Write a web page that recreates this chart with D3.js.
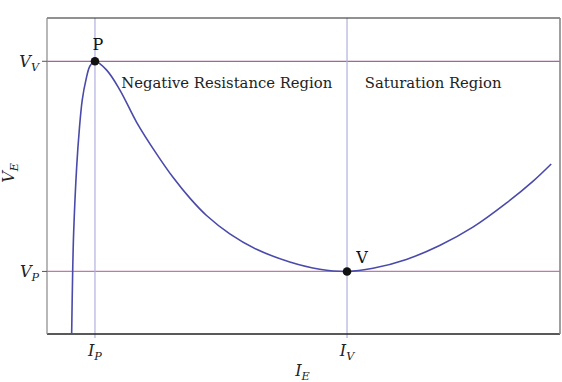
<!DOCTYPE html>
<html lang="en">
<meta charset="utf-8">
<head>
    <script src="https://d3js.org/d3.v7.min.js"></script>
    <style>
        body { margin: 0; background: #fff; }
    </style>
</head>
<body>
<div id="chart"></div>
<script>
// curve of the emitter characteristic (I_E, V_E), arbitrary units
var curveI = [0.481, 0.501, 0.520, 0.579, 0.630, 0.688, 0.760, 0.838, 0.936, 1.164, 1.423, 1.749, 2.138, 2.462, 2.788, 3.113, 3.567, 4.088, 4.737, 5.322, 5.854, 6.361, 7.012, 7.661, 8.310, 8.961, 9.480, 9.838];
var curveV = [0.00, 1.97, 3.20, 5.29, 6.46, 7.41, 8.04, 8.48, 8.63, 8.35, 7.72, 6.70, 5.70, 4.95, 4.30, 3.75, 3.17, 2.68, 2.28, 2.05, 1.98, 2.08, 2.36, 2.80, 3.38, 4.14, 4.83, 5.38];

// special points
var pointNames = ["P", "V"];
var pointI = [0.936, 5.854];
var pointV = [8.63, 1.98];

// region labels
var regionNames = ["Negative Resistance Region", "Saturation Region"];
var regionI = [1.45, 6.2];

var serif = "DejaVu Serif";

var margin = {top: 18, right: 2, bottom: 48, left: 47},
    width = 562 - margin.left - margin.right,
    height = 382 - margin.top - margin.bottom;

var svg = d3.select("#chart")
  .append("svg")
    .attr("width", 562)
    .attr("height", 382)
  .append("g")
    .attr("transform", "translate(" + margin.left + "," + margin.top + ")");

var x = d3.scaleLinear().domain([0, 10]).range([0, width - 0.5]);
var y = d3.scaleLinear().domain([0, 10]).range([height, 0]);

svg.append("clipPath").attr("id", "clip")
  .append("rect").attr("width", width).attr("height", height);

// reference lines
svg.append("line")
  .attr("x1", 0).attr("x2", width)
  .attr("y1", y(pointV[0])).attr("y2", y(pointV[0]))
  .attr("stroke", "#8a3f78").attr("stroke-width", 1);
svg.append("line")
  .attr("x1", 0).attr("x2", width)
  .attr("y1", y(pointV[1])).attr("y2", y(pointV[1]))
  .attr("stroke", "#c07aaa").attr("stroke-width", 1.2);
pointI.forEach(function(v) {
  svg.append("line")
    .attr("x1", x(v)).attr("x2", x(v))
    .attr("y1", 0).attr("y2", height + 4)
    .attr("stroke", "#b0b0e0").attr("stroke-width", 1.2);
});

// frame
svg.append("line").attr("x1", 0).attr("x2", width).attr("y1", 0).attr("y2", 0)
  .attr("stroke", "#222").attr("stroke-width", 1);
svg.append("line").attr("x1", 0).attr("x2", width).attr("y1", height).attr("y2", height)
  .attr("stroke", "#222").attr("stroke-width", 1.4);
svg.append("line").attr("x1", 0).attr("x2", 0).attr("y1", 0).attr("y2", height)
  .attr("stroke", "#888").attr("stroke-width", 1.2);
svg.append("line").attr("x1", width).attr("x2", width).attr("y1", 0).attr("y2", height)
  .attr("stroke", "#888").attr("stroke-width", 1.6);

// ticks on the left
pointV.forEach(function(v) {
  svg.append("line").attr("x1", -5).attr("x2", 0)
    .attr("y1", y(v)).attr("y2", y(v))
    .attr("stroke", "#555").attr("stroke-width", 1);
});

// the curve
var line = d3.line()
  .x(function(d, i) { return x(curveI[i]); })
  .y(function(d, i) { return y(curveV[i]); })
  .curve(d3.curveCatmullRom.alpha(0.5));

svg.append("path")
  .datum(curveI)
  .attr("clip-path", "url(#clip)")
  .attr("fill", "none")
  .attr("stroke", "#4a4aaa")
  .attr("stroke-width", 1.6)
  .attr("d", line);

// points
svg.selectAll(".pt")
  .data(pointNames)
  .enter().append("circle")
    .attr("cx", function(d, i) { return x(pointI[i]); })
    .attr("cy", function(d, i) { return y(pointV[i]); })
    .attr("r", 4.3)
    .attr("fill", "#111");

svg.append("text")
  .attr("x", x(pointI[0]) + 3).attr("y", y(pointV[0]) - 11)
  .attr("text-anchor", "middle").attr("font-size", 16).attr("fill", "#111")
  .attr("font-family", serif)
  .text(pointNames[0]);
svg.append("text")
  .attr("x", x(pointI[1]) + 15).attr("y", y(pointV[1]) - 8)
  .attr("text-anchor", "middle").attr("font-size", 16).attr("fill", "#111")
  .attr("font-family", serif)
  .text(pointNames[1]);

// region labels
svg.selectAll(".region")
  .data(regionNames)
  .enter().append("text")
    .attr("x", function(d, i) { return x(regionI[i]); })
    .attr("y", 70)
    .attr("font-size", 14.8)
    .attr("font-family", serif)
    .attr("fill", "#222")
    .text(function(d) { return d; });

// subscripted italic labels
function subLabel(g, main, sub, px, py, anchor, size) {
  var t = g.append("text")
    .attr("x", px).attr("y", py)
    .attr("text-anchor", anchor)
    .attr("font-size", size)
    .attr("font-family", serif)
    .attr("font-style", "italic")
    .attr("fill", "#222");
  t.append("tspan").text(main);
  t.append("tspan").attr("font-size", size * 0.7).attr("dy", 4).text(sub);
  return t;
}

subLabel(svg, "V", "V", -8, y(pointV[0]) + 6, "end", 16);
subLabel(svg, "V", "P", -8, y(pointV[1]) + 6, "end", 16);
subLabel(svg, "I", "P", x(pointI[0]), height + 22, "middle", 16);
subLabel(svg, "I", "V", x(pointI[1]), height + 22, "middle", 16);
subLabel(svg, "I", "E", width / 2 - 1, height + 42, "middle", 16);

var vLab = svg.append("g")
  .attr("transform", "translate(" + (-33) + "," + (height / 2 - 3) + ") rotate(-90)");
subLabel(vLab, "V", "E", 0, 0, "middle", 16);
</script>
</body>
</html>
